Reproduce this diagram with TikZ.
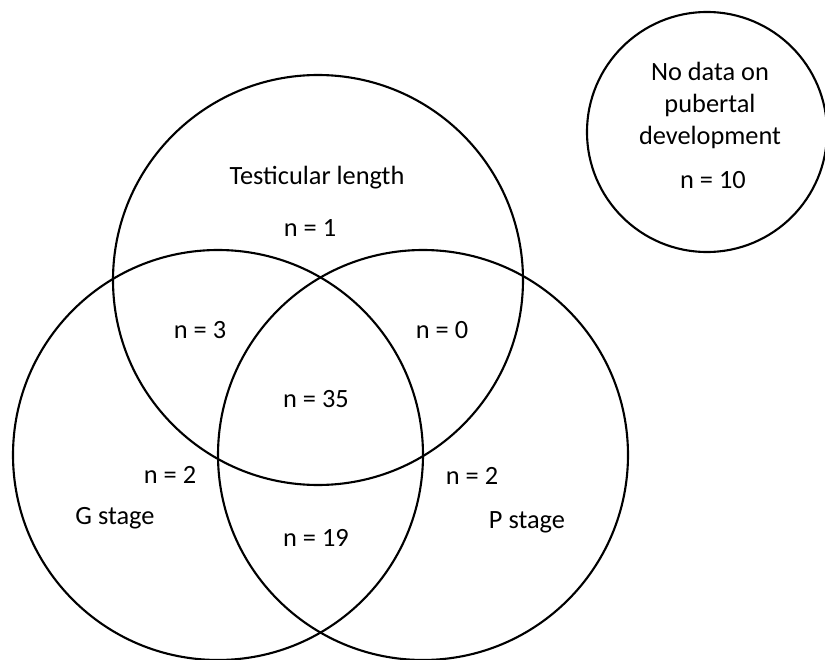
\documentclass[tikz,border=0pt]{standalone}
\usepackage{fontspec}
\setmainfont{Carlito}
\usepackage{tikz}
\tikzset{
  lbl/.style={font=\fontsize{15}{18.2}\selectfont, text height=0.7em, text depth=0pt, inner sep=0pt},
  ring/.style={draw=black, line width=1.2pt}
}

\begin{document}
\begin{tikzpicture}
\useasboundingbox (0,0) rectangle (16.5,13.18);
%CENTRI
\coordinate (ct) at (6.36,7.58);
\coordinate (cg) at (4.36,4.08);
\coordinate (cp) at (8.46,4.08);
\coordinate (cn) at (14.14,10.54);
%CERCHI
\draw[ring] (ct) circle (4.1);
\draw[ring] (cg) circle (4.1);
\draw[ring] (cp) circle (4.1);
\draw[ring] (cn) circle (2.4);
%LABEL
\node[lbl] (tl) at (6.34,9.62) {Testicular length};
\node[lbl] (n1) at (6.2,8.58) {n = 1};
\node[lbl] (n3) at (4.0,6.54) {n = 3};
\node[lbl] (n0) at (8.84,6.54) {n = 0};
\node[lbl] (n35) at (6.32,5.16) {n = 35};
\node[lbl] (n2g) at (3.4,3.64) {n = 2};
\node[lbl] (gs) at (2.3,2.82) {G stage};
\node[lbl] (n19) at (6.32,2.38) {n = 19};
\node[lbl] (n2p) at (9.44,3.62) {n = 2};
\node[lbl] (ps) at (10.54,2.74) {P stage};
% NESSUN DATO
\node[lbl, align=center, text height=, text depth=] (nd) at (14.2,11.08) {No data on\\pubertal\\development};
\node[lbl] (n10) at (14.26,9.54) {n = 10};
\end{tikzpicture}
\end{document}
